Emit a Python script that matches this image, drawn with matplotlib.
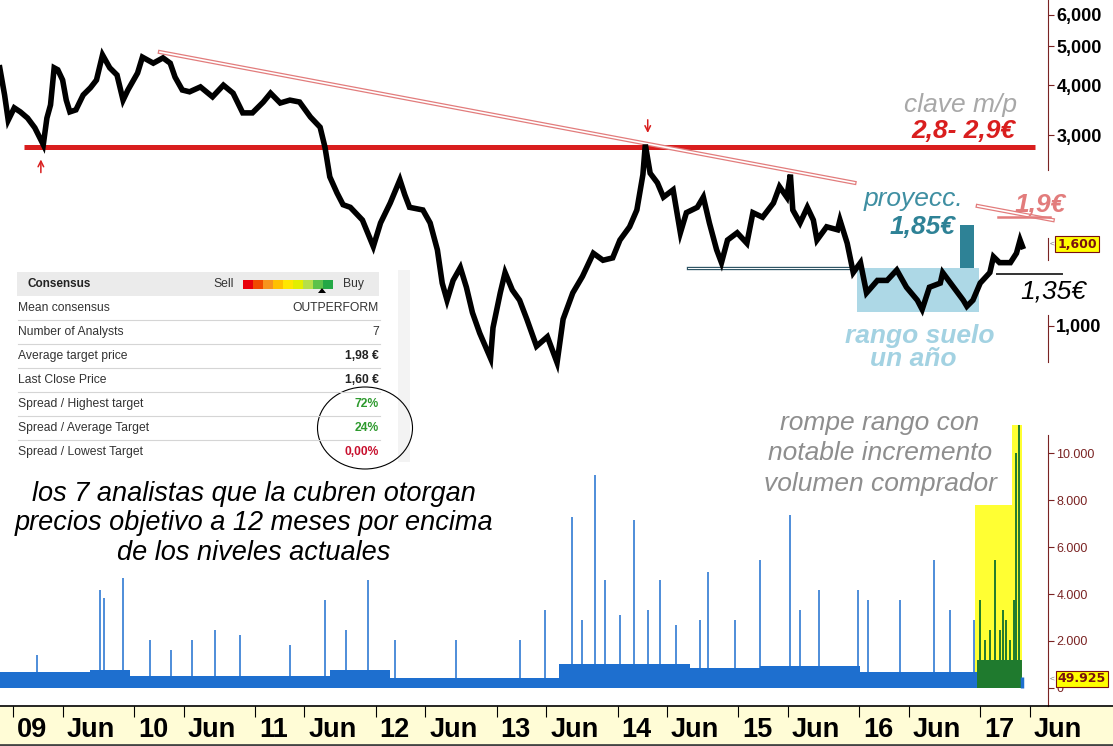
import matplotlib.pyplot as plt
import matplotlib.transforms as mtransforms
from matplotlib.lines import Line2D
from matplotlib.patches import Ellipse, Polygon, Rectangle
from matplotlib.ticker import NullLocator

plt.rcParams["font.family"] = ["Liberation Sans", "DejaVu Sans"]

# price (axis units: 1,000 = 1 EUR), x in fractional years
price_dates = [
    2008.89, 2008.93, 2008.96, 2009.01, 2009.06, 2009.12, 2009.18, 2009.25, 2009.28, 2009.31,
    2009.34, 2009.37, 2009.41, 2009.44, 2009.47, 2009.52, 2009.58, 2009.64, 2009.69, 2009.74,
    2009.80, 2009.86, 2009.91, 2009.95, 2010.03, 2010.07, 2010.16, 2010.24, 2010.30, 2010.34,
    2010.40, 2010.46, 2010.55, 2010.65, 2010.74, 2010.82, 2010.90, 2010.98, 2011.07, 2011.13,
    2011.21, 2011.29, 2011.37, 2011.46, 2011.54, 2011.58, 2011.62, 2011.68, 2011.73, 2011.79,
    2011.89, 2011.98, 2012.04, 2012.12, 2012.20, 2012.24, 2012.28, 2012.39, 2012.45, 2012.51,
    2012.55, 2012.59, 2012.64, 2012.70, 2012.75, 2012.80, 2012.86, 2012.95, 2012.97, 2013.03,
    2013.07, 2013.13, 2013.19, 2013.25, 2013.33, 2013.42, 2013.50, 2013.55, 2013.63, 2013.71,
    2013.80, 2013.88, 2013.96, 2014.02, 2014.10, 2014.16, 2014.21, 2014.23, 2014.27, 2014.33,
    2014.38, 2014.46, 2014.52, 2014.57, 2014.66, 2014.71, 2014.76, 2014.82, 2014.86, 2014.91,
    2014.99, 2015.07, 2015.12, 2015.20, 2015.29, 2015.34, 2015.40, 2015.43, 2015.45, 2015.51,
    2015.57, 2015.62, 2015.65, 2015.73, 2015.82, 2015.84, 2015.90, 2015.95, 2016.01, 2016.06,
    2016.15, 2016.23, 2016.31, 2016.39, 2016.48, 2016.52, 2016.58, 2016.67, 2016.69, 2016.78,
    2016.86, 2016.89, 2016.94, 2017.00, 2017.08, 2017.11, 2017.16, 2017.25, 2017.30, 2017.33,
    2017.35,
]
price_vals = [
    4420, 3780, 3270, 3510, 3430, 3310, 3130, 2840, 3310, 3570,
    4420, 4370, 4120, 3670, 3430, 3470, 3780, 3940, 4120, 4760,
    4420, 4240, 3670, 3890, 4290, 4700, 4540, 4680, 4540, 4190,
    3890, 3850, 3960, 3740, 4000, 3820, 3410, 3410, 3630, 3820,
    3610, 3670, 3630, 3330, 3140, 2800, 2360, 2150, 2010, 1980,
    1840, 1580, 1810, 2030, 2320, 2130, 1980, 1950, 1810, 1550,
    1280, 1160, 1300, 1400, 1250, 1080, 960, 830, 990, 1210,
    1360, 1230, 1160, 1040, 890, 940, 810, 1040, 1210, 1330,
    1520, 1460, 1480, 1640, 1770, 1950, 2390, 2840, 2410, 2280,
    2100, 2190, 1710, 1920, 1980, 2100, 1810, 1550, 1440, 1640,
    1710, 1610, 1920, 1870, 2030, 2230, 2100, 2390, 1950, 1810,
    1980, 1840, 1640, 1770, 1740, 1840, 1610, 1360, 1440, 1210,
    1300, 1300, 1380, 1250, 1160, 1100, 1250, 1280, 1360, 1250,
    1160, 1120, 1160, 1280, 1360, 1490, 1440, 1440, 1520, 1640,
    1580,
]

# volume: typical daily level per stretch + the visible spikes
vol_base_dates = [2008.89, 2009.64, 2009.97, 2011.62, 2012.12, 2013.52, 2014.60, 2015.18, 2016.01, 2016.96]
vol_base_vals = [680, 770, 510, 770, 430, 1020, 850, 940, 680, 680]
spike_dates = [
    2009.20, 2009.72, 2009.75, 2009.91, 2010.13, 2010.31, 2010.48, 2010.67, 2010.88, 2011.29,
    2011.58, 2011.75, 2011.94, 2012.16, 2012.66, 2013.19, 2013.40, 2013.62, 2013.71, 2013.81,
    2013.90, 2014.02, 2014.14, 2014.25, 2014.35, 2014.48, 2014.68, 2014.75, 2014.97, 2015.18,
    2015.43, 2015.51, 2015.67, 2015.99, 2016.07, 2016.34, 2016.62, 2016.75, 2016.95,
]
spike_vals = [
    1400, 4170, 3830, 4680, 2040, 1620, 2040, 2470, 2260, 1830,
    3740, 2470, 4600, 2040, 2040, 2040, 3320, 7280, 2890, 9060,
    4600, 3110, 7150, 3320, 4600, 2680, 2890, 4940, 2890, 5450,
    7360, 3320, 4170, 4170, 3740, 3740, 5450, 3320, 2890,
]
# breakout stretch (highlighted)
green_dates = [2017.00, 2017.04, 2017.08, 2017.12, 2017.16, 2017.19, 2017.21, 2017.25, 2017.28, 2017.30, 2017.32, 2017.34]
green_vals = [3740, 2040, 2470, 5450, 2470, 3320, 2890, 2040, 3740, 10000, 11190, 1190]
green_base = 1190
hl_dates = [2016.96, 2017.26, 2017.35]
hl_vals = [7790, 11190, 11190]

years = list(range(2009, 2018))
tick_labels = ["09", "Jun", "10", "Jun", "11", "Jun", "12", "Jun", "13", "Jun",
               "14", "Jun", "15", "Jun", "16", "Jun", "17", "Jun"]
price_ticks = [1000, 3000, 4000, 5000, 6000]
price_tick_labels = ["1,000", "3,000", "4,000", "5,000", "6,000"]
vol_ticks = [0, 2000, 4000, 6000, 8000, 10000]
vol_tick_labels = ["0", "2.000", "4.000", "6.000", "8.000", "10.000"]

# annotation levels
support_level = 2800
floor_top, floor_bottom = 1400, 1085
projection_top = 1790
stop_level = 1350
trend_a = [(2010.215, 4840), (2015.96, 2280)]
trend_b = [(2016.98, 1995), (2017.60, 1840)]

RED = "#D91E1E"
PINK = "#E27C7C"
TEAL = "#2E8296"
MAROON = "#7A2323"
BLUE = "#1E6FCF"

W, H = 1113, 746
fig = plt.figure(figsize=(W / 100, H / 100), dpi=100, facecolor="white")
rect = [0, 40 / H, 1048 / W, 706 / H]

axv = fig.add_axes(rect, zorder=1)
ax = fig.add_axes(rect, zorder=2, sharex=axv)
ax.patch.set_alpha(0)

ax.set_xlim(2008.892, 2017.561)
ax.set_yscale("log")
ax.set_ylim(112.2, 6531)
axv.set_ylim(-766, 29277)

# volume
axv.fill_between(vol_base_dates + [2016.97], 0, vol_base_vals + [vol_base_vals[-1]],
                 step="post", color=BLUE, lw=0)
axv.vlines(spike_dates, 0, spike_vals, color=BLUE, lw=1.1)
axv.fill_between(hl_dates, 0, hl_vals, step="post", color="#FFFF33", lw=0, zorder=0.5)
axv.fill_between([green_dates[0] - 0.03, green_dates[-1]], 0, green_base, color="#1F7A2E", lw=0)
axv.vlines(green_dates, 0, green_vals, color="#1F7A2E", lw=1.4)
axv.vlines([2017.345], 0, 450, color=BLUE, lw=2.5)

# annotations on the price panel
ax.add_patch(Rectangle((2015.98, floor_bottom), 1.01, floor_top - floor_bottom,
                       fc="#ADD8E6", ec="none", zorder=1))
ax.add_patch(Rectangle((2016.83, floor_top), 0.12, projection_top - floor_top,
                       fc=TEAL, ec="none", zorder=1))
ax.plot(price_dates, price_vals, color="black", lw=4, solid_joinstyle="miter", zorder=4)
ax.plot([2009.09, 2017.45], [support_level] * 2, color=RED, lw=3.6, zorder=3,
        solid_capstyle="butt")
for seg in (trend_a, trend_b):
    xs, ys = zip(*seg)
    ax.plot(xs, ys, color=PINK, lw=3.0, zorder=3, clip_on=False)
    ax.plot(xs, ys, color="white", lw=1.2, zorder=3, clip_on=False)
ax.plot([2017.15, 2017.58], [1870, 1870], color=PINK, lw=1.8, zorder=3, clip_on=False)
ax.plot([2014.58, 2015.93], [floor_top] * 2, color="#2F5565", lw=2.4, zorder=3)
ax.plot([2014.58, 2015.93], [floor_top] * 2, color="white", lw=0.7, zorder=3)
ax.plot([2017.14, 2017.68], [stop_level] * 2, color="#333333", lw=1.4, zorder=3, clip_on=False)
ax.annotate("", xy=(2009.23, 2650), xytext=(2009.23, 2380),
            arrowprops=dict(arrowstyle="->", color=RED, lw=1.1))
ax.annotate("", xy=(2014.25, 2990), xytext=(2014.25, 3330),
            arrowprops=dict(arrowstyle="->", color=RED, lw=1.1))

# axes styling
for a in (ax, axv):
    for side in ("left", "top", "bottom"):
        a.spines[side].set_visible(False)
    a.spines["right"].set_color(MAROON)
    a.yaxis.tick_right()
axv.xaxis.set_visible(False)
ax.spines["right"].set_bounds(2455, 6531)
axv.spines["right"].set_bounds(-766, 10766)
ytr = ax.get_yaxis_transform()
for lo, hi in ((1460, 1660), (813, 1065)):
    ax.plot([1, 1], [lo, hi], color=MAROON, lw=0.8, transform=ytr, clip_on=False)

ax.yaxis.set_minor_locator(NullLocator())
ax.set_yticks(price_ticks)
ax.set_yticklabels(price_tick_labels, fontsize=13, fontweight="bold")
ax.tick_params(axis="y", which="both", length=4, color=MAROON, pad=2)
axv.set_yticks(vol_ticks)
axv.set_yticklabels(vol_tick_labels, fontsize=9, color=MAROON)
axv.tick_params(axis="y", length=4, color=MAROON, pad=2)

xt = []
for y in years:
    xt += [y, y + 0.41]
ax.set_xticks(xt)
ax.set_xticklabels(tick_labels, fontsize=19.5, fontweight="bold")
ax.tick_params(axis="x", length=8, color="black", pad=0)
shift = mtransforms.ScaledTranslation(4 / 100, 0, fig.dpi_scale_trans)
for lbl in ax.get_xticklabels():
    lbl.set_ha("left")
    lbl.set_transform(lbl.get_transform() + shift)

# bottom date band
fig.patches.append(Rectangle((0, 0), 1, 40 / H, transform=fig.transFigure,
                             fc="#FFFCD6", ec="none", zorder=0))
fig.add_artist(Line2D([0, 1], [40 / H, 40 / H], color="black", lw=1.2))
fig.add_artist(Line2D([0, 1], [1 / H, 1 / H], color="#444444", lw=2))

# overlay in pixel units for the pasted table and notes
ov = fig.add_axes([0, 0, 1, 1], zorder=5)
ov.set_xlim(0, W)
ov.set_ylim(H, 0)
ov.axis("off")
ov.patch.set_alpha(0)

ov.text(1017, 112, "clave m/p", ha="right", va="baseline", fontsize=19,
        style="italic", color="#A8A8A8")
ov.text(1015, 138, "2,8- 2,9€", ha="right", va="baseline", fontsize=19,
        style="italic", weight="bold", color=RED)
ov.text(963, 206, "proyecc.", ha="right", va="baseline", fontsize=19,
        style="italic", color="#3F8FA2")
ov.text(955, 234, "1,85€", ha="right", va="baseline", fontsize=19,
        style="italic", weight="bold", color=TEAL)
ov.text(1015, 212, "1,9€", ha="left", va="baseline", fontsize=19,
        style="italic", weight="bold", color=PINK)
ov.text(1020, 299, "1,35€", ha="left", va="baseline", fontsize=19,
        style="italic", color="black")
ov.text(920, 343, "rango suelo", ha="center", va="baseline", fontsize=19,
        style="italic", weight="bold", color="#A3D2E2")
ov.text(913, 366, "un año", ha="center", va="baseline", fontsize=19,
        style="italic", weight="bold", color="#A3D2E2")
for i, line in enumerate(["rompe rango con", "notable incremento", "volumen comprador"]):
    ov.text(880, 430 + 30.5 * i, line, ha="center", va="baseline", fontsize=19,
            style="italic", color="#8E8E8E")
for i, line in enumerate(["los 7 analistas que la cubren otorgan",
                          "precios objetivo a 12 meses por encima",
                          "de los niveles actuales"]):
    ov.text(254, 501 + 29.5 * i, line, ha="center", va="baseline", fontsize=19.5,
            style="italic", color="black")

# last price / last volume flags
ov.text(1052, 244, "<", fontsize=6, color="#777777", va="center", ha="center")
ov.text(1077, 244, "1,600", ha="center", va="center", fontsize=9, weight="bold",
        family="DejaVu Sans", color="#7A1010",
        bbox=dict(boxstyle="square,pad=0.15", fc="#FFFF00", ec="#7A1010", lw=0.8))
ov.text(1052, 679, "<", fontsize=6, color="#777777", va="center", ha="center")
ov.text(1082, 679, "49.925", ha="center", va="center", fontsize=9, weight="bold",
        family="DejaVu Sans", color="#7A1010",
        bbox=dict(boxstyle="square,pad=0.15", fc="#FFFF00", ec="#7A1010", lw=0.8))

# consensus table
table_rows = ["Mean consensus", "Number of Analysts", "Average target price",
              "Last Close Price", "Spread / Highest target", "Spread / Average Target",
              "Spread / Lowest Target"]
table_values = ["OUTPERFORM", "7", "1,98 €", "1,60 €", "72%", "24%", "0,00%"]
value_colors = ["#333333", "#333333", "#222222", "#222222", "#2E9A2E", "#2E9A2E", "#C8102E"]
scale_colors = ["#E8000B", "#F04A00", "#F7941D", "#FFC000", "#FFE600",
                "#E2EE00", "#B5DF4A", "#5CC24A", "#22A845"]

ov.add_patch(Rectangle((398, 270), 12, 192, fc="#F3F3F3", ec="none"))
ov.add_patch(Rectangle((17, 272), 362, 24, fc="#EBEBEB", ec="none"))
ov.text(28, 284, "Consensus", fontsize=8.5, weight="bold", va="center", color="#222222")
ov.text(213, 284, "Sell", fontsize=8.7, va="center", color="#333333")
for i, c in enumerate(scale_colors):
    ov.add_patch(Rectangle((243 + 10 * i, 280), 10, 9, fc=c, ec="none"))
ov.add_patch(Polygon([(318, 293), (326, 293), (322, 288)], fc="black", ec="none"))
ov.text(343, 284, "Buy", fontsize=8.7, va="center", color="#333333")
for i, (name, val) in enumerate(zip(table_rows, table_values)):
    yc = 308 + 24 * i
    ov.text(18, yc, name, fontsize=8.7, va="center", color="#333333")
    ov.text(379, yc, val, fontsize=8.7, va="center", ha="right", color=value_colors[i],
            weight="bold" if i >= 2 else "normal")
    if i < 6:
        ov.plot([18, 380], [yc + 12, yc + 12], color="#D5D5D5", lw=0.8)
ov.add_patch(Ellipse((365, 428), 95, 82, fill=False, ec="black", lw=0.8))

fig.savefig("out.png", dpi=100, facecolor="white")
